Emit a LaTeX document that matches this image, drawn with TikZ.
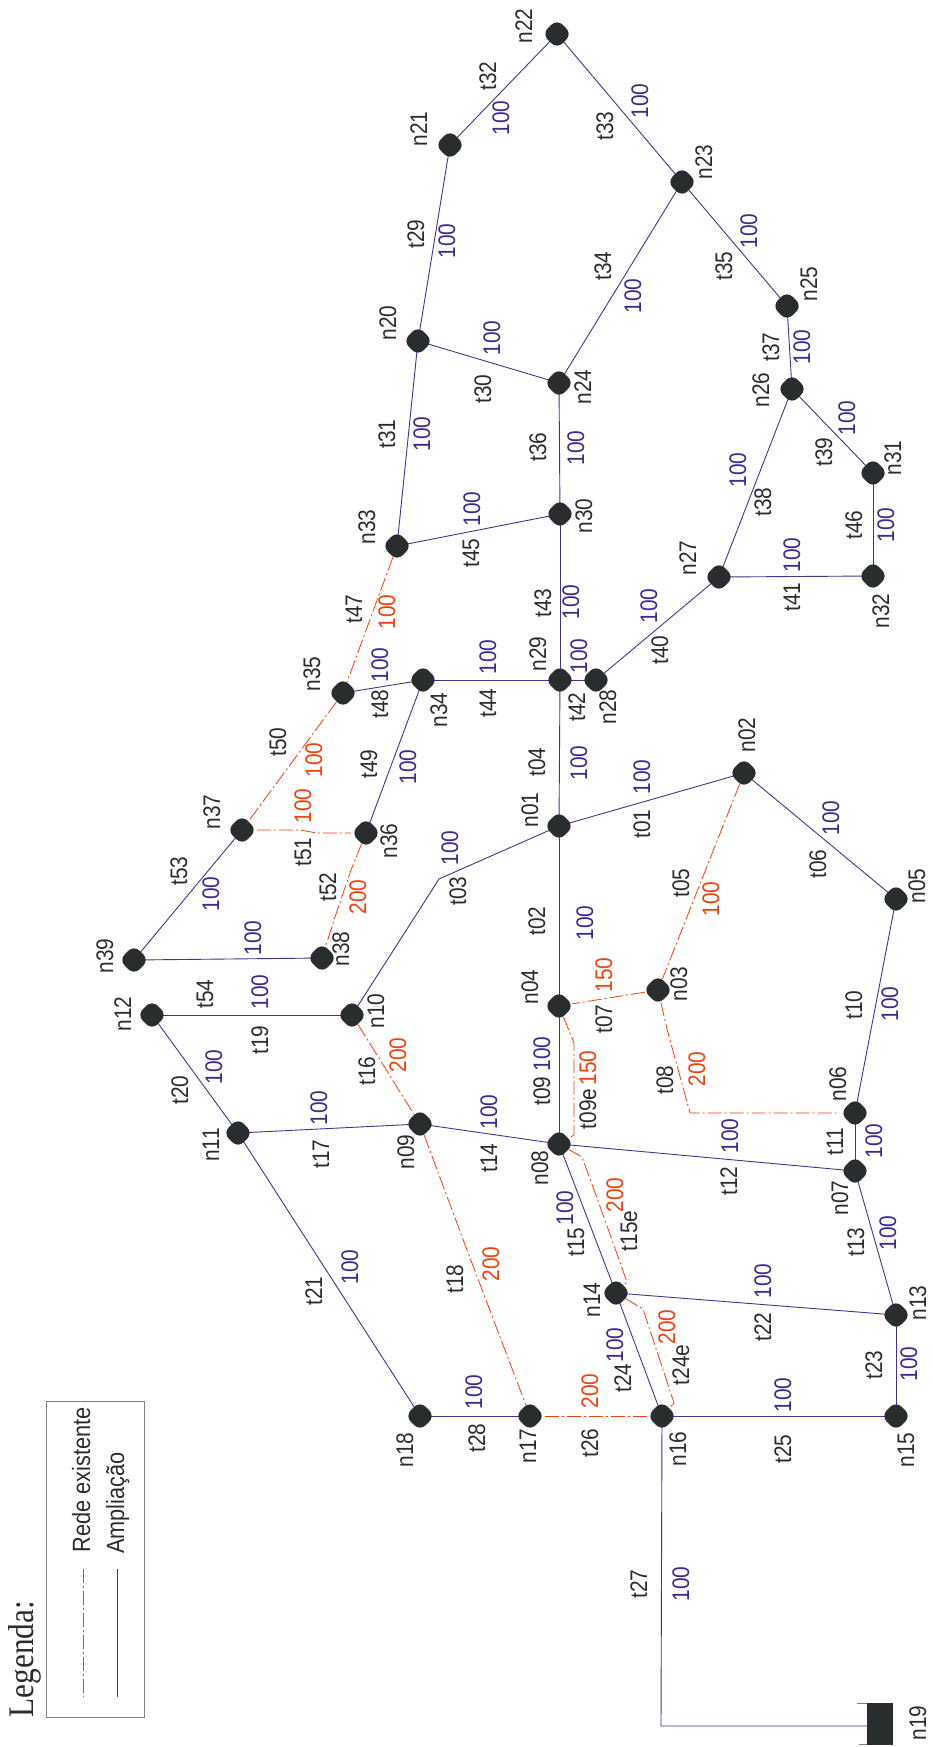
\documentclass[tikz,border=0pt]{standalone}
\usepackage{fontspec}
\usetikzlibrary{shapes.geometric}
\setmainfont{Liberation Sans}[FakeStretch=0.87]
\newfontfamily\serifleg{Liberation Serif}[FakeStretch=0.87]
\definecolor{inkc}{HTML}{2A2D2E}
\definecolor{bluec}{HTML}{3F2A8C}
\definecolor{bluel}{HTML}{45328F}
\definecolor{redc}{HTML}{F0420F}
\pgfdeclarelayer{lines}
\pgfsetlayers{lines,main}
\tikzset{
  pn/.style={diamond,aspect=1,fill=inkc,draw=none,rounded corners=8pt,inner sep=0pt,minimum size=30pt},
  lbl/.style={rotate=90,anchor=base,inner sep=0pt,font=\fontsize{24}{24}\selectfont},
  nl/.style={lbl,text=inkc},
  bl/.style={lbl,text=bluec},
  rl/.style={lbl,text=redc},
  amp/.style={draw=bluel,line width=0.9pt},
  ext/.style={draw=redc,line width=0.8pt,dash pattern=on 14pt off 3pt on 2pt off 3pt},
}
\begin{document}
\begin{tikzpicture}[x=1pt,y=-1pt]
\useasboundingbox (0,0) rectangle (932,1747);
% junctions
\foreach \n/\x/\y in {n01/559/826,n02/744/773,n03/658/990,n04/559/1006,n05/896/899,n06/855/1113,n07/855/1171,n08/559/1144,n09/420/1124,n10/352/1015,n11/238/1133,n12/152/1015,n13/896/1315,n14/616/1293,n15/896/1416,n16/662/1416,n17/530/1416,n18/420/1416,n20/418/341,n21/450/145,n22/557/34,n23/682/182,n24/559/383,n25/787/306,n26/792/389,n27/719/577,n28/596/680,n29/560/680,n30/560/514,n31/873/473,n32/873/576,n33/397/546,n34/423/680,n35/343/693,n36/366/833,n37/242/830,n38/322/958,n39/134/960}
  {\node[pn] (\n) at (\x,\y) {};}
\node[fill=inkc,inner sep=0pt,minimum width=26pt,minimum height=42pt] (n19) at (880,1724) {};
% bends
\coordinate (b03) at (439,879);
\coordinate (b27) at (661,1726);
\coordinate (b08a) at (667,1029);
\coordinate (b08b) at (690,1113);
\coordinate (b09a) at (574,1043);
\coordinate (b09b) at (574,1135);
\coordinate (b15a) at (582,1157);
\coordinate (b15b) at (597,1198);
\coordinate (b15c) at (627,1282);
\coordinate (b24a) at (643,1309);
\coordinate (b24b) at (674,1403);
\coordinate (b51) at (317,833);
\coordinate (b51a) at (300,830);
\coordinate (b52a) at (351,870);
\coordinate (b52b) at (335,917);
\coordinate (b18) at (467,1250);
\coordinate (tk1a) at (857,1703);
\coordinate (tk1b) at (867,1703);
\coordinate (tk2a) at (859,1744);
\coordinate (tk2b) at (867,1744);
\begin{pgfonlayer}{lines}
% ampliacao
\foreach \a/\b in {n01/n02,n01/n04,n01/n29,n02/n05,n04/n08,n05/n06,n06/n07,n08/n07,n07/n13,n09/n08,n08/n14,n09/n11,n10/n12,n12/n11,n11/n18,n14/n13,n13/n15,n14/n16,n16/n15,n18/n17,n20/n21,n20/n24,n33/n20,n21/n22,n22/n23,n23/n24,n23/n25,n24/n30,n25/n26,n26/n27,n26/n31,n27/n28,n27/n32,n29/n28,n29/n30,n34/n29,n33/n30,n31/n32,n35/n34,n34/n36,n37/n39,n39/n38}
  {\draw[amp] (\a.center) -- (\b.center);}
\draw[amp] (n01.center) -- (b03) -- (n10.center);
\draw[amp] (n16.center) -- (b27) -- (n19.west|-b27);
\draw[draw=gray,line width=0.8pt] (tk1a) -- (tk1b);
\draw[draw=gray,line width=0.8pt] (tk2a) -- (tk2b);
% rede existente
\foreach \a/\b in {n02/n03,n03/n04,n10/n09,n17/n16,n33/n35,n35/n37}
  {\draw[ext] (\a) -- (\b);}
\draw[ext] (n03) -- (b08a) -- (b08b) -- (n06);
\draw[ext] (n04) -- (b09a) -- (b09b) -- (n08);
\draw[ext] (n08) -- (b15a) -- (b15b) -- (b15c) -- (n14);
\draw[ext] (n14) -- (b24a) -- (b24b) -- (n16);
\draw[ext] (n37) -- (b51a) -- (b51) -- (n36);
\draw[ext] (n36) -- (b52a) -- (b52b) -- (n38);
\draw[ext] (n09) -- (b18) -- (n17);
\end{pgfonlayer}
% node labels
\foreach \n/\x/\y in {n01/538/810,n02/755/735,n03/687/984,n04/538/987,n05/925/886,n06/846/1084,n07/848/1198,n08/548/1168,n09/414/1152,n10/384/1011,n11/219/1145,n12/131/1014,n13/926/1303,n14/600/1300,n15/914/1450,n16/686/1449,n17/536/1446,n18/413/1450,n19/926/1723,n20/396/323,n21/427/129,n22/532/26,n23/712/162,n24/591/387,n25/817/284,n26/769/390,n27/696/558,n28/616/707,n29/546/654,n30/592/516,n31/901/458,n32/889/611,n33/375/527,n34/447/710,n35/320/674,n36/397/841,n37/220/812,n38/349/949,n39/113/956}
  {\node[nl] (l\n) at (\x,\y) {\n};}
% pipe names
\foreach \n/\x/\y in {t01/650/824,t02/545/921,t03/466/891,t04/545/762,t05/689/883,t06/826/864,t07/612/1019,t08/673/1080,t09/550/1091,t09e/596/1109,t10/862/1005,t11/843/1142,t12/737/1181,t13/864/1242,t14/497/1158,t15/584/1242,t15e/637/1231,t16/375/1071,t17/329/1154,t18/463/1279,t19/268/1040,t20/188/1090,t21/322/1291,t22/771/1327,t23/882/1365,t24/631/1378,t24e/689/1365,t25/791/1449,t26/598/1443,t27/647/1584,t28/485/1438,t29/424/234,t30/491/389,t31/395/434,t32/496/76,t33/613/126,t34/611/266,t35/732/266,t36/546/447,t37/779/347,t38/771/502,t39/832/452,t40/668/650,t41/800/597,t42/585/707,t43/551/603,t44/496/703,t45/479/553,t46/862/525,t47/362/609,t48/388/704,t49/377/764,t50/286/742,t51/311/852,t52/336/887,t53/187/871,t54/213/994}
  {\node[nl] (l\n) at (\x,\y) {\n};}
% diameters, ampliacao
\foreach \n/\x/\y in {a01/650/777,a02/593/923,a03/458/848,a04/587/763,a06/839/818,a09/550/1054,a10/898/1004,a11/882/1141,a12/738/1136,a13/896/1233,a14/497/1112,a15/573/1208,a17/327/1108,a19/268/992,a20/222/1067,a21/358/1267,a22/771/1281,a23/917/1364,a24/623/1345,a25/791/1395,a27/689/1584,a28/482/1392,a29/455/241,a30/500/338,a31/430/434,a32/509/118,a33/648/101,a34/641/296,a35/757/231,a36/584/448,a37/810/347,a38/746/470,a39/855/418,a40/657/606,a41/800/555,a42/587/656,a43/579/602,a44/496/657,a45/480/509,a46/894/525,a48/388/665,a49/416/767,a53/219/894,a54/261/938}
  {\node[bl] (d\n) at (\x,\y) {100};}
% diameters, rede existente
\foreach \n/\x/\y/\v in {r05/719/899/100,r07/612/975/150,r08/705/1069/200,r09/596/1068/150,r15/623/1195/200,r16/406/1055/200,r18/499/1264/200,r24/675/1327/200,r26/598/1391/200,r47/395/612/100,r50/322/760/100,r51/311/806/100,r52/366/897/200}
  {\node[rl] (d\n) at (\x,\y) {\v};}
% legend
\node[rotate=90,anchor=base,inner sep=0pt,text=inkc,font=\serifleg\fontsize{36}{36}\selectfont] (legt) at (33,1659) {Legenda:};
\node[draw=gray,line width=1pt,inner sep=0pt,minimum width=98pt,minimum height=316pt] (legb) at (95,1559) {};
\coordinate (lr1) at (83,1569);
\coordinate (lr2) at (83,1697);
\coordinate (la1) at (117,1569);
\coordinate (la2) at (117,1697);
\draw[ext,line width=0.7pt] (lr1) -- (lr2);
\draw[amp] (la1) -- (la2);
\node[lbl,text=inkc,font=\fontsize{25}{25}\selectfont] (lge) at (90,1480) {Rede existente};
\node[lbl,text=inkc,font=\fontsize{25}{25}\selectfont] (lga) at (124,1503) {Ampliação};
\end{tikzpicture}
\end{document}
